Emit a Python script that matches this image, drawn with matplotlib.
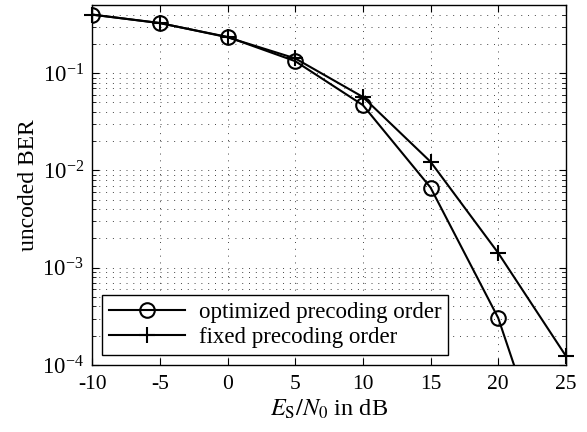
import matplotlib
matplotlib.use("Agg")
import matplotlib.pyplot as plt
from matplotlib.ticker import LogLocator, NullFormatter, FixedLocator

plt.rcParams['font.family'] = ['Liberation Serif', 'DejaVu Serif']
plt.rcParams['mathtext.fontset'] = 'stix'

snr_db = [-10, -5, 0, 5, 10, 15, 20, 25]
ber_optimized = [0.40, 0.327, 0.236, 0.133, 0.047, 0.00668, 3.05e-4, 2.6e-6]
ber_fixed = [0.40, 0.328, 0.234, 0.142, 0.057, 0.0123, 1.42e-3, 1.24e-4]
x_ticks = [-10, -5, 0, 5, 10, 15, 20, 25]

fig = plt.figure(figsize=(5.87, 4.32), dpi=100)
ax = fig.add_axes([0.157, 0.155, 0.807, 0.833])

ax.plot(snr_db, ber_optimized, color='black', lw=1.5, marker='o', ms=10.5,
        mfc='none', mew=1.5, label='optimized precoding order', clip_on=True)
ax.plot(snr_db, ber_fixed, color='black', lw=1.5, marker='+', ms=12,
        mew=1.5, label='fixed precoding order', clip_on=False)

ax.set_yscale('log')
ax.set_xlim(-10, 25)
ax.set_ylim(1e-4, 0.5)
ax.xaxis.set_major_locator(FixedLocator(x_ticks))
ax.set_xticklabels([str(t) for t in x_ticks])
ax.yaxis.set_major_locator(LogLocator(base=10, numticks=10))
ax.yaxis.set_minor_locator(LogLocator(base=10, subs=range(2, 10), numticks=20))
ax.yaxis.set_minor_formatter(NullFormatter())

ax.tick_params(which='both', direction='in', top=True, right=True)
ax.tick_params(axis='x', labelsize=15.5, pad=7)
ax.tick_params(axis='y', labelsize=16.5, pad=6)
ax.tick_params(which='major', length=5, width=0.8)
ax.tick_params(which='minor', length=3, width=0.6)

ax.grid(True, which='major', axis='both', color='#444444', lw=0.7, linestyle=(0, (1, 6)))
ax.grid(True, which='minor', axis='y', color='#444444', lw=0.7, linestyle=(0, (1, 6)))

for s in ax.spines.values():
    s.set_linewidth(1.0)

ax.set_xlabel(r'$E_\mathrm{S}/N_0$ in dB', fontsize=17.5, labelpad=3)
ax.set_ylabel('uncoded BER', fontsize=17, labelpad=2)

leg = ax.legend(loc='lower left', fontsize=16.5, frameon=True, fancybox=False,
                edgecolor='black', framealpha=1, borderaxespad=0.45,
                handlelength=3.3, borderpad=0.3, labelspacing=0.15, handletextpad=0.6)
leg.get_frame().set_linewidth(1.0)

fig.savefig('out.png', dpi=100)
